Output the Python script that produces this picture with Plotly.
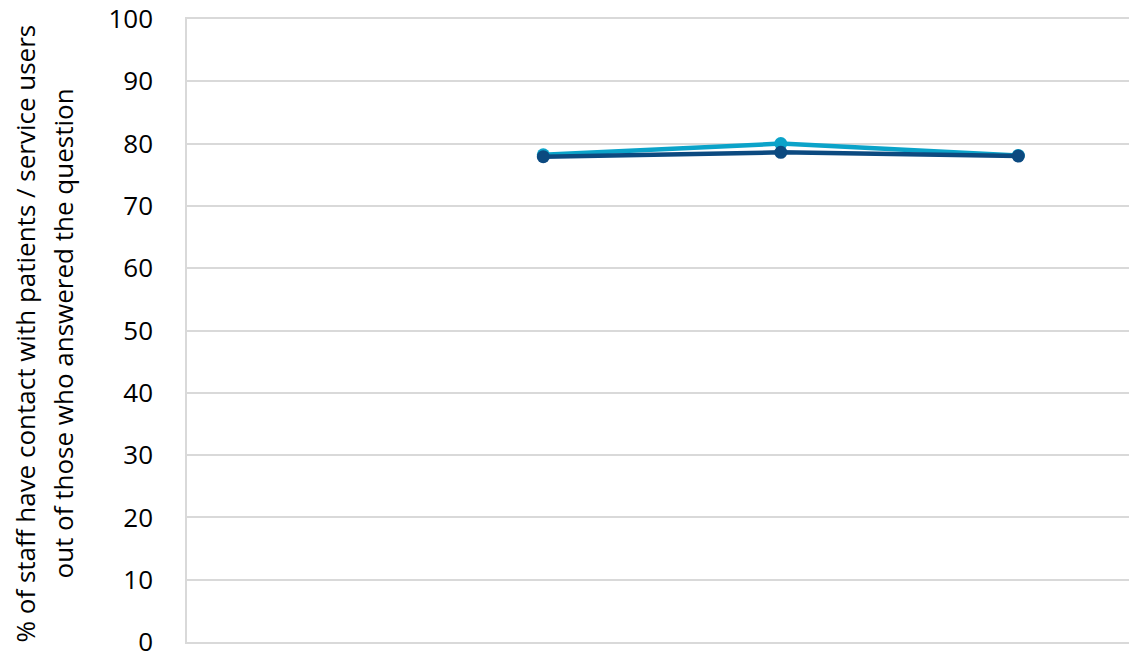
import plotly.graph_objects as go

years = ["2019", "2020", "2021", "2022"]
org_values = [None, 78.2, 80.0, 78.1]
benchmark_values = [None, 77.9, 78.6, 78.0]
y_ticks = list(range(0, 101, 10))
title_lines = [
    "% of staff have contact with patients / service users",
    "out of those who answered the question",
]

fig = go.Figure()

fig.add_trace(
    go.Scatter(
        x=years,
        y=org_values,
        mode="lines+markers",
        name="Organisation",
        line=dict(color="#0BA3C9", width=4.5),
        marker=dict(color="#0BA3C9", size=13),
    )
)

fig.add_trace(
    go.Scatter(
        x=years,
        y=benchmark_values,
        mode="lines+markers",
        name="Average",
        line=dict(color="#0C4A80", width=4.5),
        marker=dict(color="#0C4A80", size=13),
    )
)

# two-line rotated axis title, placed by hand to get Excel-like line spacing
for line, shift in zip(title_lines, [-163, -125]):
    fig.add_annotation(
        text=line,
        xref="paper",
        yref="paper",
        x=0,
        y=0.5,
        xanchor="center",
        yanchor="middle",
        xshift=shift,
        yshift=-3,
        textangle=-90,
        showarrow=False,
        font=dict(size=26, family="Open Sans", color="black"),
    )

fig.update_layout(
    width=1129,
    height=659,
    margin=dict(l=187, r=0, t=18, b=12),
    paper_bgcolor="white",
    plot_bgcolor="white",
    showlegend=False,
    font=dict(family="Open Sans", color="black"),
    xaxis=dict(
        type="category",
        categoryorder="array",
        categoryarray=years,
        range=[-0.5, 3.466],
        showticklabels=False,
        showgrid=False,
        showline=True,
        mirror=True,
        linecolor="#d9d9d9",
        linewidth=1.5,
        zeroline=False,
    ),
    yaxis=dict(
        range=[0, 100],
        tickvals=y_ticks,
        tickfont=dict(size=26),
        ticklabelstandoff=27,
        ticklabeloverflow="allow",
        showgrid=True,
        gridcolor="#d9d9d9",
        gridwidth=1.5,
        showline=True,
        linecolor="#d9d9d9",
        linewidth=1.5,
        zeroline=False,
    ),
)

fig.write_html(
    "out.html",
    config={"displayModeBar": False},
    post_script="document.body.style.margin='0';document.body.style.overflow='hidden';",
)
